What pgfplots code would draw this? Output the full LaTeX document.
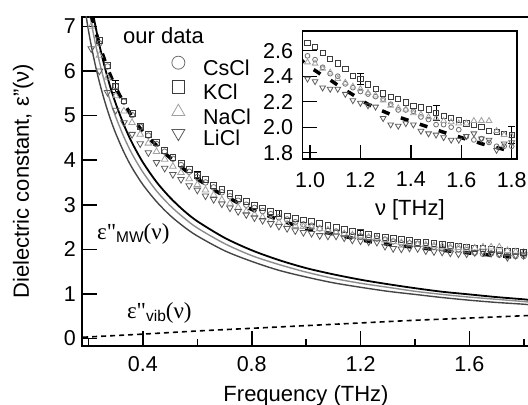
\documentclass[border=0pt]{standalone}
\usepackage{fontspec}
\setmainfont{Liberation Sans}
\newfontfamily\serif{Liberation Serif}
\usepackage{pgfplots}
\usepackage{pgfplotstable}
\pgfplotsset{compat=1.18}

\definecolor{cscl}{HTML}{6E6E6E}
\definecolor{kcl}{HTML}{3C3C3C}
\definecolor{nacl}{HTML}{A0A0A0}
\definecolor{licl}{HTML}{5A5A5A}
\definecolor{mwgray}{HTML}{8C8C8C}
\definecolor{mwdark}{HTML}{454545}

\newcommand\ft{\fontsize{21.5bp}{21.5bp}\selectfont}
\newcommand\fl{\fontsize{22bp}{22bp}\selectfont}

\pgfplotsset{
  legc/.style={legend image code/.code={\draw[##1,mark size=6.5bp] plot coordinates {(0bp,7bp)};}},
  legs/.style={legend image code/.code={\draw[##1,mark size=6.3bp] plot coordinates {(0bp,7bp)};}},
  legt/.style={legend image code/.code={\draw[##1,mark size=7.5bp] plot coordinates {(0bp,7bp)};}},
}

% our data: x, CsCl, KCl, NaCl, LiCl, fit
\pgfplotstableread{
x cs k na li fit
0.21 7.25 7.28 7.00 6.50 7.25
0.24 6.62 6.68 6.35 6.00 6.60
0.27 6.10 6.12 5.86 5.52 6.06
0.30 5.66 5.66 5.44 5.12 5.63
0.33 5.31 5.33 5.10 4.84 5.28
0.36 5.01 5.04 4.84 4.58 4.98
0.39 4.75 4.76 4.58 4.37 4.71
0.42 4.55 4.57 4.38 4.17 4.51
0.45 4.36 4.40 4.19 3.95 4.33
0.48 4.19 4.22 4.02 3.82 4.16
0.51 4.03 4.07 3.86 3.68 4.00
0.54 3.89 3.93 3.72 3.57 3.85
0.57 3.74 3.79 3.58 3.43 3.71
0.60 3.62 3.67 3.45 3.33 3.58
0.63 3.50 3.56 3.33 3.20 3.46
0.66 3.39 3.43 3.22 3.12 3.34
0.69 3.28 3.34 3.11 3.02 3.23
0.72 3.19 3.25 3.03 2.93 3.14
0.75 3.09 3.15 2.94 2.85 3.04
0.78 3.00 3.07 2.85 2.78 2.95
0.81 2.93 2.99 2.78 2.71 2.87
0.84 2.86 2.93 2.72 2.65 2.80
0.87 2.79 2.86 2.66 2.58 2.73
0.90 2.72 2.80 2.60 2.52 2.66
0.93 2.67 2.75 2.56 2.47 2.60
0.96 2.61 2.70 2.53 2.42 2.54
0.99 2.56 2.66 2.51 2.38 2.48
1.02 2.53 2.63 2.50 2.36 2.445
1.05 2.47 2.58 2.46 2.31 2.405
1.08 2.42 2.535 2.43 2.30 2.37
1.11 2.40 2.50 2.38 2.30 2.33
1.14 2.34 2.455 2.35 2.26 2.29
1.17 2.31 2.40 2.32 2.21 2.255
1.20 2.28 2.38 2.30 2.19 2.215
1.23 2.26 2.335 2.27 2.17 2.18
1.26 2.24 2.30 2.25 2.16 2.15
1.29 2.22 2.265 2.21 2.07 2.125
1.32 2.18 2.24 2.17 2.02 2.10
1.35 2.135 2.225 2.15 2.01 2.08
1.38 2.135 2.195 2.14 2.03 2.06
1.41 2.125 2.165 2.11 2.02 2.04
1.44 2.08 2.155 2.10 1.97 2.02
1.47 2.06 2.14 2.08 1.95 2.00
1.50 2.02 2.11 2.07 1.94 1.98
1.53 2.02 2.09 2.05 1.92 1.96
1.56 2.00 2.07 2.04 1.90 1.94
1.59 1.98 2.055 2.03 1.90 1.925
1.62 1.925 2.03 2.03 1.93 1.905
1.65 1.90 2.02 2.05 1.95 1.89
1.68 1.91 2.005 2.05 1.91 1.87
1.71 1.88 1.97 2.05 1.90 1.855
1.74 1.85 1.96 1.97 1.82 1.84
1.77 1.85 1.95 1.94 1.87 1.825
1.80 1.85 1.94 1.93 1.88 1.81
}\ourdata

% error bars on KCl
\pgfplotstableread{
x y e
0.30 5.66 0.13
0.60 3.67 0.08
0.90 2.80 0.07
1.20 2.38 0.045
1.50 2.11 0.06
1.80 1.94 0.065
}\errdata

% Maxwell-Wagner curves
\pgfplotstableread{
x top mid bot
0.18 8.78 8.28 7.67
0.20 7.90 7.45 6.90
0.22 7.18 6.77 6.27
0.24 6.58 6.21 5.75
0.26 6.08 5.73 5.31
0.28 5.64 5.32 4.93
0.30 5.27 4.97 4.60
0.33 4.79 4.52 4.18
0.36 4.39 4.14 3.83
0.40 3.95 3.73 3.45
0.45 3.51 3.31 3.07
0.50 3.16 2.98 2.76
0.55 2.87 2.71 2.51
0.60 2.63 2.48 2.30
0.70 2.26 2.13 1.97
0.80 1.98 1.86 1.73
0.90 1.76 1.66 1.53
1.00 1.58 1.49 1.38
1.10 1.44 1.35 1.25
1.20 1.32 1.24 1.15
1.30 1.22 1.15 1.06
1.40 1.13 1.06 0.99
1.50 1.05 0.99 0.92
1.60 0.99 0.93 0.86
1.70 0.93 0.88 0.81
1.80 0.88 0.83 0.77
1.83 0.86 0.81 0.75
}\mwdata

\pgfplotstableread{
x y
0.18 0.03
0.40 0.10
0.60 0.17
0.80 0.23
1.00 0.29
1.20 0.35
1.40 0.41
1.60 0.46
1.83 0.52
}\vibdata

\begin{document}
\begin{tikzpicture}
\path[use as bounding box] (-82bp,-59.3bp) rectangle (446bp,345.7bp);

\begin{axis}[
  at={(0,0)}, anchor=south west,
  scale only axis, width=448bp, height=328.7bp,
  xmin=0.176, xmax=1.823, ymin=-0.16, ymax=7.21,
  axis line style={line width=1.8bp},
  xtick={0.4,0.8,1.2,1.6}, xticklabels={0.4,0.8,1.2,1.6},
  minor xtick={0.2,0.6,1.0,1.4,1.8},
  ytick={0,1,2,3,4,5,6,7}, yticklabels={0,1,2,3,4,5,6,7},
  tick align=inside, xtick pos=left, ytick pos=left,
  major tick length=15bp, minor tick length=7bp,
  tick style={line width=1.6bp, black},
  tick label style={font=\ft},
  xticklabel style={inner sep=0pt, yshift=-11bp},
  yticklabel style={inner sep=0pt, xshift=-6bp},
  xlabel={Frequency (THz)},
  xlabel style={font=\fl, at={(axis description cs:0.5,0)}, anchor=base, yshift=-55.3bp},
  ylabel={Dielectric constant, ε"(ν)},
  ylabel style={font=\fl, at={(axis description cs:-0.1183,0.5)}, anchor=base},
  legend style={at={(axis cs:0.5057,6.336)}, anchor=north west, draw=none, fill=none,
    inner sep=0pt, font=\ft, row sep=0pt,
    nodes={inner sep=1.15bp, text height=15bp, text depth=4bp},
    /tikz/every odd column/.append style={column sep=17bp}},
  legend cell align=left,
]
\addplot[forget plot, no marks, black, line width=1.8bp, smooth] table[x=x,y=top] {\mwdata};
\addplot[forget plot, no marks, mwgray, line width=1.4bp, smooth] table[x=x,y=mid] {\mwdata};
\addplot[forget plot, no marks, mwdark, line width=1.4bp, smooth] table[x=x,y=bot] {\mwdata};
\addplot[forget plot, no marks, black, line width=1.6bp, dash pattern=on 5bp off 4bp, smooth] table[x=x,y=y] {\vibdata};

\addplot[only marks, legc, cscl, mark=o, mark size=2.8bp, mark options={line width=0.8bp}] table[x=x,y=cs] {\ourdata};
\addlegendentry{CsCl}
\addplot[only marks, legs, kcl, mark=square, mark size=2.9bp, mark options={line width=0.8bp}] table[x=x,y=k] {\ourdata};
\addlegendentry{KCl}
\addplot[only marks, legt, nacl, mark=triangle, mark size=3.8bp, mark options={line width=0.8bp}] table[x=x,y=na] {\ourdata};
\addlegendentry{NaCl}
\addplot[only marks, legt, licl, mark=triangle, mark size=3.8bp, mark options={line width=0.8bp, rotate=180}] table[x=x,y=li] {\ourdata};
\addlegendentry{LiCl}

\addplot[forget plot, no marks, black, line width=3.5bp, dash pattern=on 8bp off 12bp, smooth] table[x=x,y=fit] {\ourdata};
\addplot[forget plot, only marks, kcl, mark=square, mark size=2.9bp, mark options={line width=0.8bp},
  error bars/.cd, y dir=both, y explicit,
  error bar style={black, line width=0.8bp},
  error mark options={rotate=90, black, mark size=3.5bp, line width=0.8bp}]
  table[x=x, y=y, y error=e] {\errdata};

\node[anchor=base west, inner sep=0pt, font=\fl] at (axis cs:0.3265,6.62) {our data};
\node[anchor=base west, inner sep=0pt] at (axis cs:0.231,2.21)
  {{\serif\fontsize{23bp}{23bp}\selectfont ε"}\raisebox{-3bp}{\fontsize{15.5bp}{15.5bp}\selectfont MW}{\serif\fontsize{23bp}{23bp}\selectfont (ν)}};
\node[anchor=base west, inner sep=0pt] at (axis cs:0.341,0.46)
  {{\serif\fontsize{23bp}{23bp}\selectfont ε"}\raisebox{-3bp}{\fontsize{15.5bp}{15.5bp}\selectfont vib}{\serif\fontsize{23bp}{23bp}\selectfont (ν)}};
\end{axis}

\begin{axis}[
  at={(220.7bp,186.7bp)}, anchor=south west,
  scale only axis, width=214.3bp, height=128bp,
  xmin=0.971, xmax=1.821, ymin=1.75, ymax=2.755,
  axis background/.style={fill=white},
  axis line style={line width=1.3bp},
  xtick={1.0,1.2,1.4,1.6,1.8}, xticklabels={1.0,1.2,1.4,1.6,1.8},
  ytick={1.8,2.0,2.2,2.4,2.6}, yticklabels={1.8,2.0,2.2,2.4,2.6},
  tick align=inside, xtick pos=left, ytick pos=left,
  major tick length=14bp,
  tick style={line width=1.3bp, black},
  tick label style={font=\ft},
  xticklabel style={inner sep=0pt, yshift=-13bp},
  yticklabel style={inner sep=0pt, xshift=-9.5bp},
  xlabel={ν [THz]},
  xlabel style={font=\fl, at={(axis description cs:0.5,0)}, anchor=base, yshift=-57bp},
]
\addplot[only marks, cscl, mark=o, mark size=2.4bp, mark options={line width=0.8bp}] table[x=x,y=cs] {\ourdata};
\addplot[only marks, kcl, mark=square, mark size=2.6bp, mark options={line width=0.8bp}] table[x=x,y=k] {\ourdata};
\addplot[only marks, nacl, mark=triangle, mark size=3.3bp, mark options={line width=0.8bp}] table[x=x,y=na] {\ourdata};
\addplot[only marks, licl, mark=triangle, mark size=3.3bp, mark options={line width=0.8bp, rotate=180}] table[x=x,y=li] {\ourdata};
\addplot[no marks, black, line width=3.5bp, dash pattern=on 8bp off 12bp, smooth] table[x=x,y=fit] {\ourdata};
\addplot[only marks, kcl, mark=square, mark size=2.6bp, mark options={line width=0.8bp},
  error bars/.cd, y dir=both, y explicit,
  error bar style={black, line width=0.8bp},
  error mark options={rotate=90, black, mark size=3.5bp, line width=0.8bp}]
  table[x=x, y=y, y error=e] {\errdata};
\end{axis}
\end{tikzpicture}
\end{document}
